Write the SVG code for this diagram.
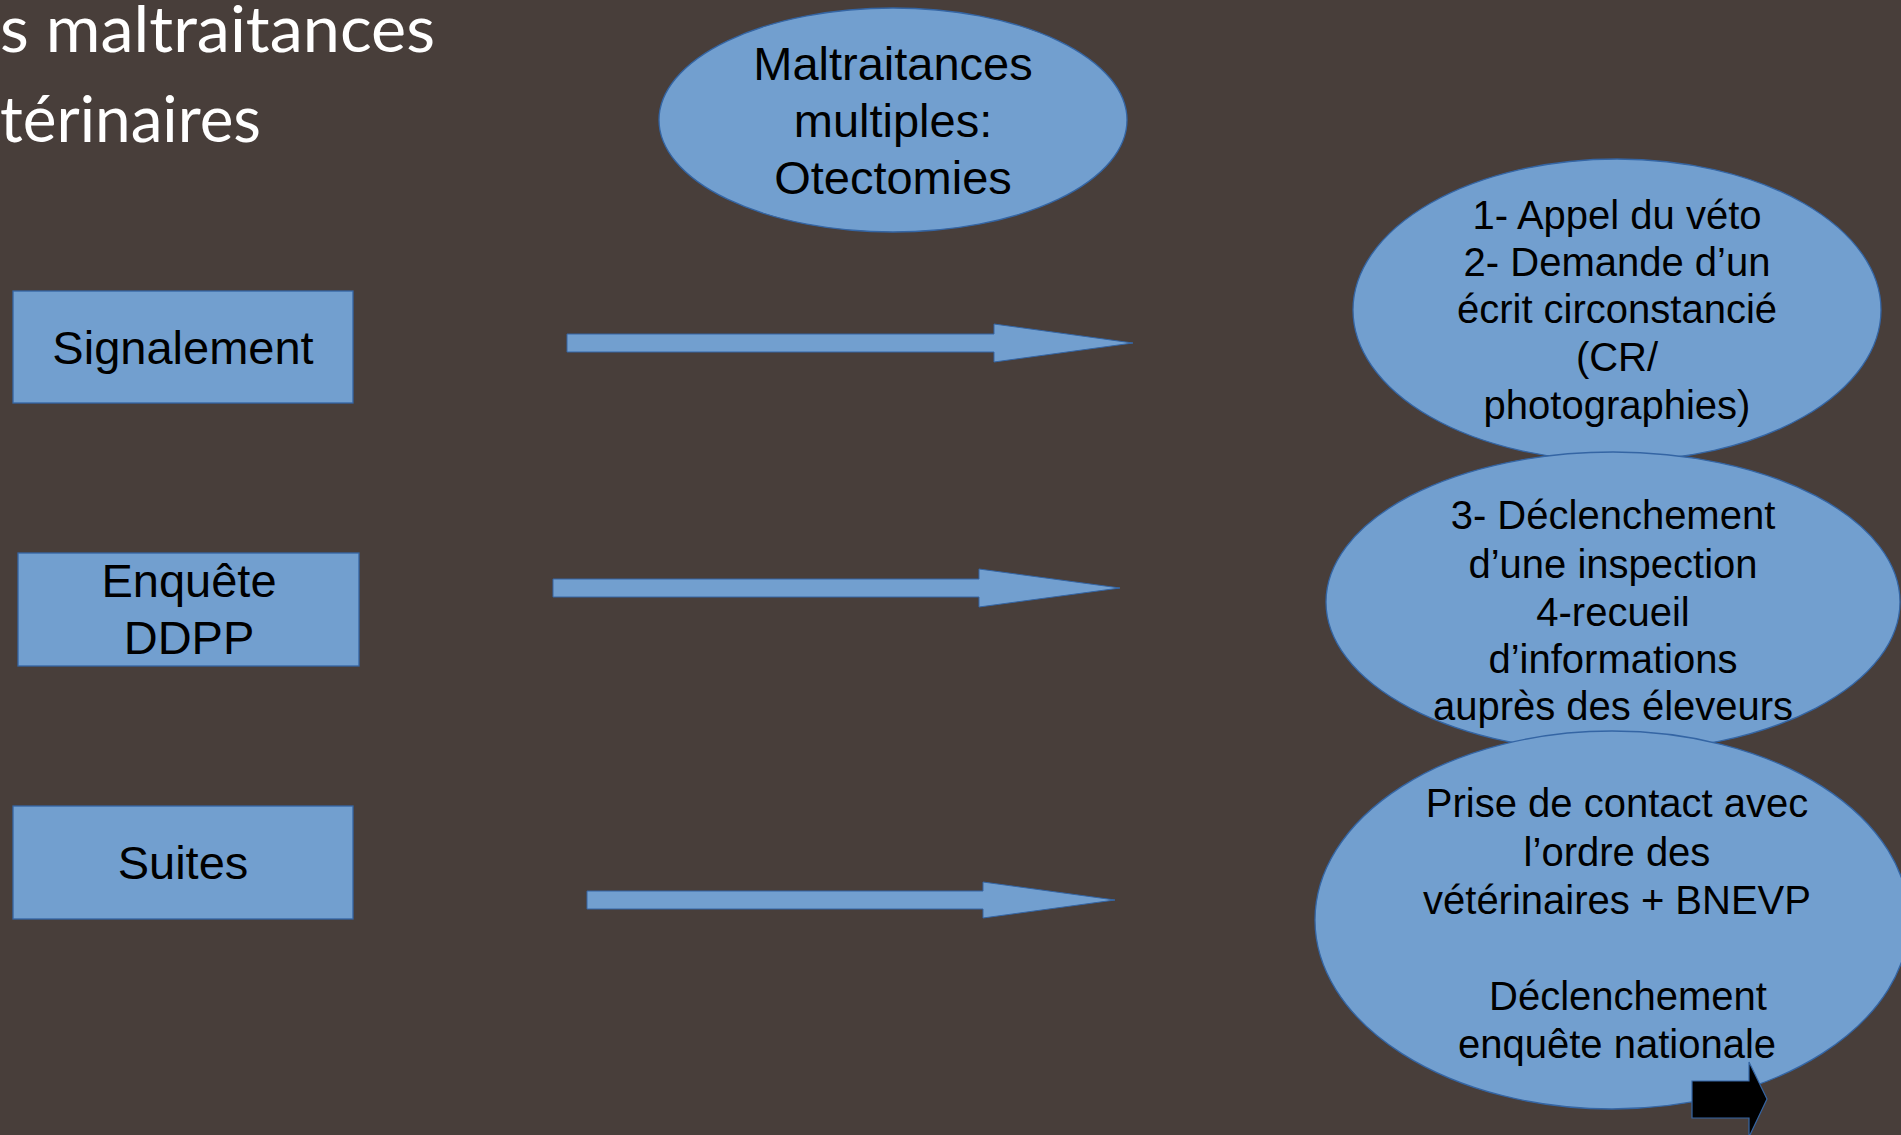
<svg xmlns="http://www.w3.org/2000/svg" width="1901" height="1135" viewBox="0 0 1901 1135">
  <style>
    .shape { fill: #729fcf; stroke: #3465a4; stroke-width: 1.3; }
    .arrow { fill: #729fcf; stroke: #3465a4; stroke-width: 1; }
    .lbl { font-family: "Liberation Sans", Arial, sans-serif; fill: #000000; text-anchor: middle; }
    .big { font-size: 47px; }
    .med { font-size: 40px; }
    .title { font-family: "Lato", "Open Sans", sans-serif; font-weight: 400; font-size: 64px; fill: #ffffff; }
  </style>
  <rect x="0" y="0" width="1901" height="1135" fill="#483e3a"/>

  <g id="title">
    <text class="title" x="0" y="52" textLength="435" lengthAdjust="spacingAndGlyphs">s maltraitances</text>
    <text class="title" x="0" y="142" textLength="261" lengthAdjust="spacingAndGlyphs">térinaires</text>
  </g>

  <g id="node-maltraitances">
    <ellipse class="shape" cx="893" cy="120" rx="234" ry="112"/>
    <text class="lbl big" x="893" y="80">Maltraitances</text>
    <text class="lbl big" x="893" y="137">multiples:</text>
    <text class="lbl big" x="893" y="194">Otectomies</text>
  </g>

  <g id="node-signalement">
    <rect class="shape" x="13" y="291" width="340" height="112"/>
    <text class="lbl big" x="183" y="364">Signalement</text>
  </g>

  <g id="node-enquete">
    <rect class="shape" x="18" y="553" width="341" height="113"/>
    <text class="lbl big" x="189" y="597">Enquête</text>
    <text class="lbl big" x="189" y="654">DDPP</text>
  </g>

  <g id="node-suites">
    <rect class="shape" x="13" y="806" width="340" height="113"/>
    <text class="lbl big" x="183" y="879">Suites</text>
  </g>

  <g id="node-etapes-1-2">
    <ellipse class="shape" cx="1617" cy="310" rx="264" ry="151"/>
    <text class="lbl med" x="1617" y="229">1- Appel du véto</text>
    <text class="lbl med" x="1617" y="276">2- Demande d’un</text>
    <text class="lbl med" x="1617" y="323">écrit circonstancié</text>
    <text class="lbl med" x="1617" y="371">(CR/</text>
    <text class="lbl med" x="1617" y="419">photographies)</text>
  </g>

  <g id="node-etapes-3-4">
    <ellipse class="shape" cx="1613" cy="602" rx="287" ry="150"/>
    <text class="lbl med" x="1613" y="529">3- Déclenchement</text>
    <text class="lbl med" x="1613" y="578">d’une inspection</text>
    <text class="lbl med" x="1613" y="626">4-recueil</text>
    <text class="lbl med" x="1613" y="673">d’informations</text>
    <text class="lbl med" x="1613" y="720">auprès des éleveurs</text>
  </g>

  <g id="node-suites-detail">
    <ellipse class="shape" cx="1612" cy="920" rx="297" ry="189"/>
    <text class="lbl med" x="1617" y="817">Prise de contact avec</text>
    <text class="lbl med" x="1617" y="866">l’ordre des</text>
    <text class="lbl med" x="1617" y="914">vétérinaires + BNEVP</text>
    <text class="lbl med" x="1628" y="1010">Déclenchement</text>
    <text class="lbl med" x="1617" y="1058">enquête nationale</text>
  </g>

  <g id="connectors">
    <polygon class="arrow" points="567,334 994,334 994,324 1133,343 994,362 994,352 567,352"/>
    <polygon class="arrow" points="553,579 979,579 979,569 1120,588 979,607 979,597 553,597"/>
    <polygon class="arrow" points="587,891 983,891 983,882 1115,900 983,918 983,909 587,909"/>
    <polygon points="1692,1081 1749,1081 1749,1062 1767,1099 1749,1137 1749,1118 1692,1118" fill="#000000" stroke="#3465a4" stroke-width="1.2"/>
  </g>
</svg>
